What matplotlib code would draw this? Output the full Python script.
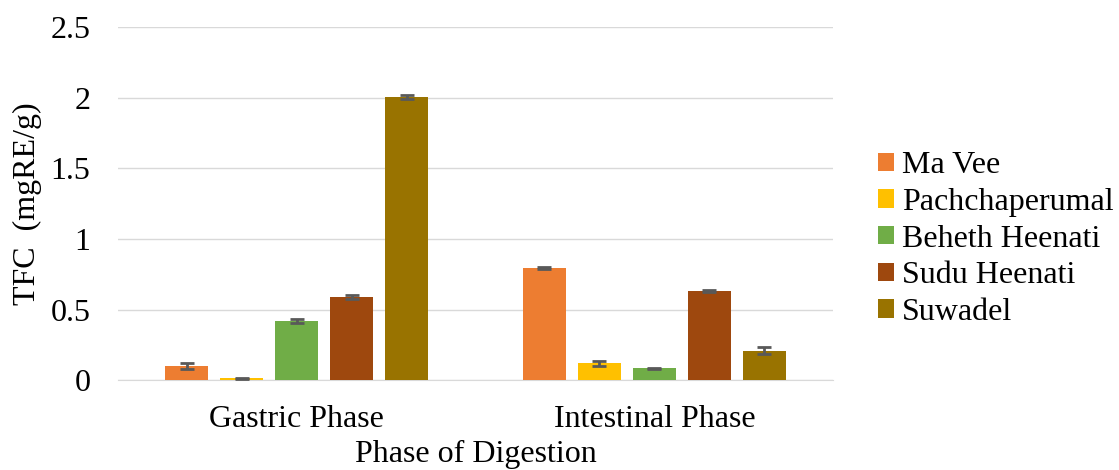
import numpy as np
import matplotlib.pyplot as plt

phases = ['Gastric Phase', 'Intestinal Phase']
varieties = ['Ma Vee', 'Pachchaperumal', 'Beheth Heenati', 'Sudu Heenati', 'Suwadel']
tfc = {
    'Ma Vee': [0.10, 0.795],
    'Pachchaperumal': [0.015, 0.12],
    'Beheth Heenati': [0.42, 0.085],
    'Sudu Heenati': [0.59, 0.63],
    'Suwadel': [2.005, 0.21],
}
err = {
    'Ma Vee': [0.02, 0.006],
    'Pachchaperumal': [0.004, 0.016],
    'Beheth Heenati': [0.015, 0.005],
    'Sudu Heenati': [0.015, 0.006],
    'Suwadel': [0.012, 0.022],
}
colors = ['#ED7D31', '#FFC000', '#70AD47', '#9E480E', '#997300']

plt.rcParams['font.family'] = ['Liberation Serif']
fs = 23
fig = plt.figure(figsize=(11.19, 4.70), dpi=100)
ax = fig.add_axes([0.1055, 0.191, 0.639, 0.751])

x = np.arange(len(phases))
step = 0.154
width = 0.12
for i, v in enumerate(varieties):
    off = (i - 2) * step
    ax.bar(x + off, tfc[v], width, color=colors[i], label=v, zorder=3,
           yerr=err[v], error_kw=dict(ecolor='#595959', elinewidth=2,
                                       capsize=5, capthick=2))

ax.set_xlim(-0.5, 1.5)
ax.set_ylim(0, 2.5)
ax.set_yticks([0, 0.5, 1, 1.5, 2, 2.5])
ax.set_yticklabels(['0', '0.5', '1', '1.5', '2', '2.5'])
ax.set_xticks(x)
ax.set_xticklabels(phases)
ax.tick_params(axis='y', length=0, labelsize=fs, pad=20)
ax.tick_params(axis='x', length=0, labelsize=fs, pad=18)
ax.grid(axis='y', color='#D9D9D9', linewidth=1, zorder=0)
for s in ['top', 'right', 'left']:
    ax.spines[s].set_visible(False)
ax.spines['bottom'].set_color('#D9D9D9')
ax.set_ylabel('TFC  (mgRE/g)', fontsize=fs, labelpad=6)
ax.set_xlabel('Phase of Digestion', fontsize=fs, labelpad=4)

ax.legend(loc='center left', bbox_to_anchor=(1.04, 0.40), frameon=False,
          fontsize=fs, handlelength=0.5, handleheight=0.5, handletextpad=0.25,
          labelspacing=0.24, borderpad=0)

fig.savefig('out.png', dpi=100)
